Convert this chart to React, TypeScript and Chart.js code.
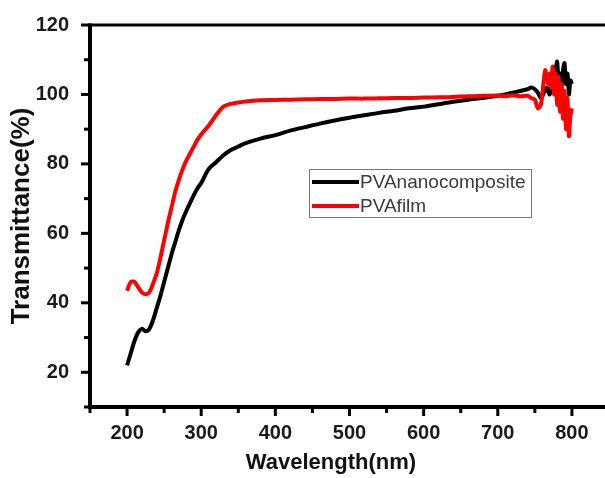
import { useEffect, useRef } from "react";
import { Chart, registerables } from "chart.js";

Chart.register(...registerables);

const wavelengths = [
  200, 205, 210, 215, 220, 225, 230, 235, 240, 245, 250, 255, 260, 265, 270, 275, 280, 285, 290, 295,
  300, 310, 320, 330, 340, 350, 360, 380, 400, 420, 440, 460, 480, 500, 520, 540, 560, 580, 600, 620,
  640, 660, 680, 700, 710, 720, 730, 740, 745, 750, 754, 758, 760, 762, 764, 766, 768, 770, 772, 774,
  776, 778, 780, 782, 784, 786, 788, 790, 792, 794, 796, 798, 800,
];

const nanocomposite = [
  22, 25.5, 29, 31.5, 32.5, 31.8, 32.5, 35, 38.5, 42, 46, 50, 54, 57.5, 61, 64, 66.5, 68.8, 71, 73,
  74.5, 78.5, 80.5, 82.5, 84, 85, 86, 87.3, 88.3, 89.6, 90.6, 91.6, 92.5, 93.3, 94, 94.7, 95.3, 96, 96.5, 97.2,
  97.9, 98.5, 99, 99.6, 100, 100.5, 101, 101.5, 102, 101.5, 100.5, 99, 99.5, 100.5, 101, 102, 101, 100, 103, 106,
  108, 106, 109.5, 104, 106, 102, 107, 109, 103, 106, 100, 104, 103,
];

const pvaFilm = [
  43.5, 46, 46, 44.5, 43, 42.5, 43, 45.5, 48.5, 53, 58, 63, 67.5, 72, 75.5, 78.5, 81, 83, 85, 87,
  88.5, 91, 94, 96.5, 97.3, 97.7, 98, 98.3, 98.4, 98.5, 98.6, 98.7, 98.7, 98.8, 98.8, 98.9, 99, 99, 99.1, 99.2,
  99.3, 99.5, 99.6, 99.7, 99.5, 99.8, 99.5, 99.6, 99, 98.5, 96, 97, 100, 104, 107, 105, 103, 106, 102, 108,
  100, 106, 97, 105, 95, 103, 93, 101, 90, 99, 88, 94, 96,
];

const seriesLabels = ["PVAnanocomposite", "PVAfilm"];
const seriesColors = ["#000000", "#ff0000"];

const xRange = [150, 850];
const yRange = [10, 120];
const xStep = 50;
const yStep = 10;
const xMajorEvery = 100;
const yMajorEvery = 20;

const xTitle = "Wavelength(nm)";
const yTitle = "Transmittance(%)";

const FONT = "'Liberation Sans', Arial, sans-serif";

const framePlugin = {
  id: "frameAndTicks",
  afterDatasetsDraw(chart: any) {
    const { ctx, chartArea } = chart;
    const { left, right, top, bottom } = chartArea;
    ctx.save();
    ctx.strokeStyle = "#000";
    ctx.lineCap = "butt";
    ctx.lineWidth = 3;
    ctx.beginPath();
    ctx.moveTo(left, top);
    ctx.lineTo(right, top);
    ctx.lineTo(right, bottom);
    ctx.stroke();
    ctx.lineWidth = 4;
    ctx.beginPath();
    ctx.moveTo(left, top - 1.5);
    ctx.lineTo(left, bottom);
    ctx.lineTo(right, bottom);
    ctx.stroke();

    const xs = chart.scales.x;
    const ys = chart.scales.y;
    ctx.lineWidth = 3;
    xs.ticks.forEach((t: any) => {
      const px = xs.getPixelForValue(t.value);
      const len = t.value % xMajorEvery === 0 ? 9 : 6;
      ctx.beginPath();
      ctx.moveTo(px, bottom);
      ctx.lineTo(px, bottom + len);
      ctx.stroke();
    });
    ys.ticks.forEach((t: any) => {
      const py = ys.getPixelForValue(t.value);
      const len = t.value % yMajorEvery === 0 ? 9 : 6;
      ctx.beginPath();
      ctx.moveTo(left, py);
      ctx.lineTo(left - len, py);
      ctx.stroke();
    });

    // x-axis title (offset left of the scale centre, as in the source figure)
    ctx.fillStyle = "#111";
    ctx.font = `bold 22px ${FONT}`;
    ctx.textAlign = "center";
    ctx.textBaseline = "middle";
    ctx.fillText(xTitle, left + 241, bottom + 56);
    ctx.restore();
  },
};

const legendPlugin = {
  id: "insetLegend",
  afterDraw(chart: any) {
    const { ctx, chartArea } = chart;
    const boxLeft = chartArea.left + 219;
    const boxTop = chartArea.top + 144;
    const boxW = 222;
    const boxH = 48;
    ctx.save();
    ctx.fillStyle = "#ffffff";
    ctx.fillRect(boxLeft, boxTop, boxW, boxH);
    ctx.strokeStyle = "#777777";
    ctx.lineWidth = 1;
    ctx.strokeRect(boxLeft + 0.5, boxTop + 0.5, boxW, boxH);
    ctx.font = `19px ${FONT}`;
    ctx.textBaseline = "middle";
    ctx.textAlign = "left";
    chart.data.datasets.forEach((ds: any, i: number) => {
      const y = boxTop + 13 + i * 24;
      ctx.strokeStyle = ds.borderColor;
      ctx.lineWidth = 4;
      ctx.beginPath();
      ctx.moveTo(boxLeft + 3, y);
      ctx.lineTo(boxLeft + 50, y);
      ctx.stroke();
      ctx.fillStyle = "#3a3a3a";
      ctx.fillText(ds.label, boxLeft + 51, y + 1);
    });
    ctx.restore();
  },
};

export default function App() {
  const canvasRef = useRef<HTMLCanvasElement | null>(null);

  useEffect(() => {
    if (!canvasRef.current) return;
    const seriesValues = [nanocomposite, pvaFilm];
    const chart = new Chart(canvasRef.current, {
      type: "line",
      data: {
        datasets: seriesValues.map((vals, i) => ({
          label: seriesLabels[i],
          data: wavelengths.map((w, k) => ({ x: w, y: vals[k] })),
          borderColor: seriesColors[i],
          backgroundColor: seriesColors[i],
          borderWidth: 4,
          pointRadius: 0,
          tension: 0.3,
          fill: false,
          order: i === 0 ? 1 : 0,
        })),
      },
      options: {
        responsive: false,
        animation: false,
        devicePixelRatio: 1,
        layout: { padding: { top: 24, right: 11, left: 0, bottom: 0 } },
        plugins: {
          legend: { display: false },
          tooltip: { enabled: false },
        },
        scales: {
          x: {
            type: "linear",
            min: xRange[0],
            max: xRange[1],
            grid: { display: false },
            border: { display: false },
            ticks: {
              stepSize: xStep,
              autoSkip: false,
              maxRotation: 0,
              padding: 6,
              color: "#1a1a1a",
              font: { family: FONT, size: 20, weight: "bold" },
              callback: (v: any) => (Number(v) % xMajorEvery === 0 ? String(v) : ""),
            },
            title: { display: false },
            afterFit: (s: any) => {
              s.height = 71;
            },
          },
          y: {
            type: "linear",
            min: yRange[0],
            max: yRange[1],
            grid: { display: false },
            border: { display: false },
            ticks: {
              stepSize: yStep,
              autoSkip: false,
              padding: 13,
              color: "#1a1a1a",
              font: { family: FONT, size: 20, weight: "bold" },
              callback: (v: any) => (Number(v) % yMajorEvery === 0 ? String(v) : ""),
            },
            title: {
              display: true,
              text: yTitle,
              color: "#111",
              font: { family: FONT, size: 26, weight: "bold" },
              padding: { top: 6, bottom: 0 },
            },
            afterFit: (s: any) => {
              s.width = 90;
            },
          },
        },
      },
      plugins: [framePlugin, legendPlugin],
    });
    return () => chart.destroy();
  }, []);

  return (
    <div
      style={{
        position: "fixed",
        left: 0,
        top: 0,
        width: 605,
        height: 478,
        overflow: "hidden",
        background: "#fff",
      }}
    >
      <canvas ref={canvasRef} width={620} height={478} style={{ display: "block" }} />
    </div>
  );
}
